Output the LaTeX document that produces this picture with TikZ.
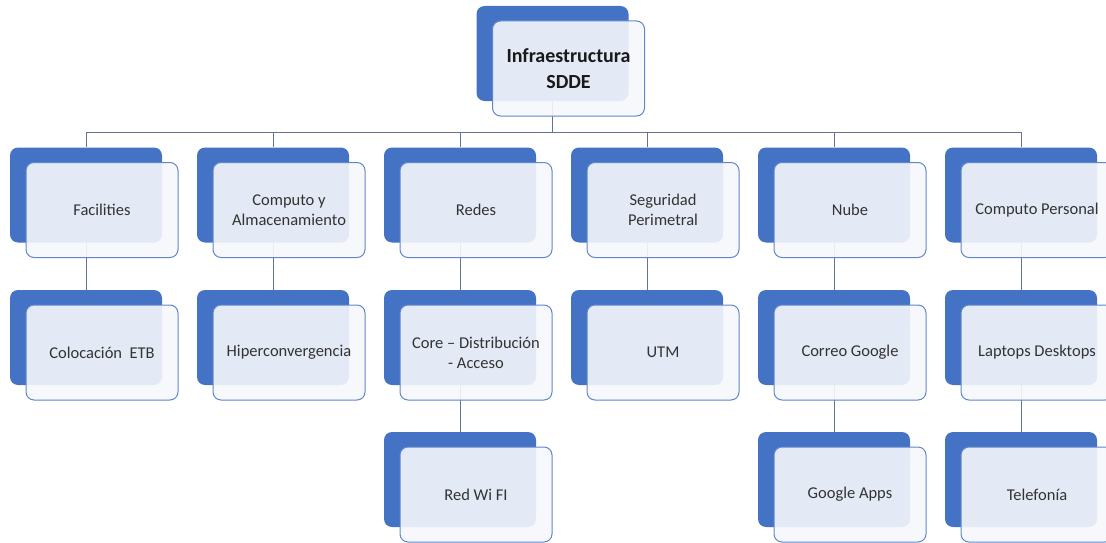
\documentclass[tikz,border=0pt]{standalone}
\usepackage{fontspec}
\setmainfont{Carlito}
\usepackage{xcolor}
\usepackage{tikz}
\usetikzlibrary{positioning}
\definecolor{backblue}{RGB}{68,114,196}
\definecolor{frontfill}{RGB}{245,247,251}
\definecolor{linkgray}{RGB}{100,116,150}

\begin{document}
\begin{tikzpicture}[
      x=1pt, y=-1pt,
      back/.style={rectangle, rounded corners=8pt, fill=backblue, minimum width=152pt, minimum height=95pt, inner sep=0pt},
      front/.style={rectangle, rounded corners=8pt, draw=backblue!85!white, line width=1pt, fill=frontfill, fill opacity=0.9, draw opacity=1, text opacity=1, minimum width=152pt, minimum height=95pt, align=center, text=black!80, font=\fontsize{16.5pt}{20pt}\selectfont},
      title/.style={front, text=black!90, font=\bfseries\fontsize{20pt}{26pt}\selectfont},
      link/.style={draw=linkgray, line width=0.9pt}
    ]
      \useasboundingbox (0,0) rectangle (1106,543);
      \coordinate (bus) at (0,132);
      % Top
      \node[back] (topb) at (552.5,53.5) {};
      % Level 1
      \node[back] (facb) at (86,195) {};
      \node[back] (comb) at (273,195) {};
      \node[back] (redb) at (460,195) {};
      \node[back] (segb) at (647,195) {};
      \node[back] (nubb) at (834,195) {};
      \node[back] (perb) at (1021,195) {};
      % Level 2
      \node[back] (colb) at (86,337.5) {};
      \node[back] (hipb) at (273,337.5) {};
      \node[back] (coreb) at (460,337.5) {};
      \node[back] (utmb) at (647,337.5) {};
      \node[back] (corrb) at (834,337.5) {};
      \node[back] (lapb) at (1021,337.5) {};
      % Level 3
      \node[back] (wifib) at (460,479.5) {};
      \node[back] (appsb) at (834,479.5) {};
      \node[back] (telb) at (1021,479.5) {};
      % Connectors
      \foreach \n in {facb,comb,redb,segb,nubb,perb}
        \draw[link] (topb.south) |- (bus -| \n.north) -- (\n.north);
      \draw[link] (facb.south) -- (colb.north);
      \draw[link] (comb.south) -- (hipb.north);
      \draw[link] (redb.south) -- (coreb.north);
      \draw[link] (coreb.south) -- (wifib.north);
      \draw[link] (segb.south) -- (utmb.north);
      \draw[link] (nubb.south) -- (corrb.north);
      \draw[link] (corrb.south) -- (appsb.north);
      \draw[link] (perb.south) -- (lapb.north);
      \draw[link] (lapb.south) -- (telb.north);
      % Front boxes
      \node[title] (top) at ([shift={(16,15)}]topb.center) {Infraestructura\\SDDE};
      \node[front] (fac) at ([shift={(16,15)}]facb.center) {Facilities};
      \node[front] (com) at ([shift={(16,15)}]comb.center) {Computo y\\Almacenamiento};
      \node[front] (red) at ([shift={(16,15)}]redb.center) {Redes};
      \node[front] (seg) at ([shift={(16,15)}]segb.center) {Seguridad\\Perimetral};
      \node[front] (nub) at ([shift={(16,15)}]nubb.center) {Nube};
      \node[front] (per) at ([shift={(16,15)}]perb.center) {Computo Personal};
      \node[front] (col) at ([shift={(16,15)}]colb.center) {Colocación\ \ ETB};
      \node[front] (hip) at ([shift={(16,15)}]hipb.center) {Hiperconvergencia};
      \node[front] (core) at ([shift={(16,15)}]coreb.center) {Core – Distribución\\- Acceso};
      \node[front] (utm) at ([shift={(16,15)}]utmb.center) {UTM};
      \node[front] (corr) at ([shift={(16,15)}]corrb.center) {Correo Google};
      \node[front] (lap) at ([shift={(16,15)}]lapb.center) {Laptops Desktops};
      \node[front] (wifi) at ([shift={(16,15)}]wifib.center) {Red Wi FI};
      \node[front] (apps) at ([shift={(16,15)}]appsb.center) {Google Apps};
      \node[front] (tel) at ([shift={(16,15)}]telb.center) {Telefonía};
    \end{tikzpicture}
\end{document}
